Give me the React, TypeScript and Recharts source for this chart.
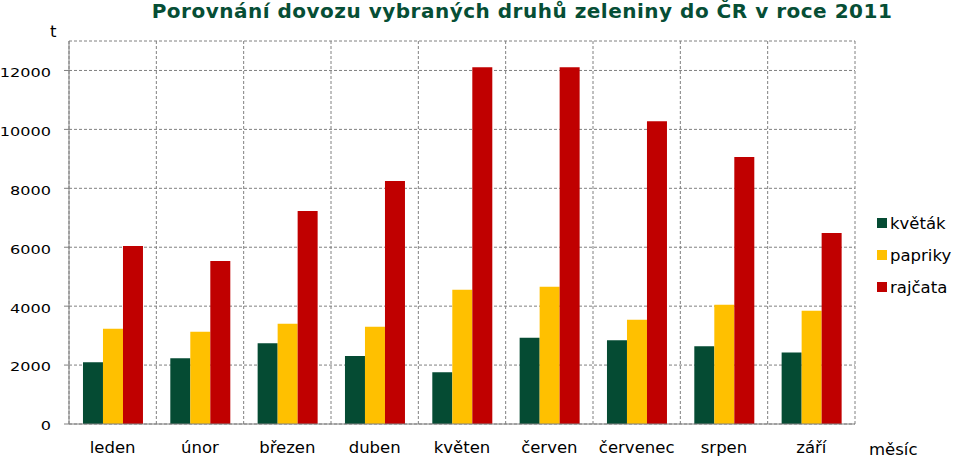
import React from "react";
import { BarChart, Bar, XAxis, YAxis, CartesianGrid } from "recharts";

const months = ["leden", "únor", "březen", "duben", "květen", "červen", "červenec", "srpen", "září"];
const kvetak = [2100, 2230, 2740, 2310, 1760, 2930, 2840, 2640, 2430];
const papriky = [3230, 3130, 3400, 3300, 4555, 4655, 3535, 4045, 3840];
const rajcata = [6045, 5535, 7230, 8250, 12110, 12110, 10280, 9060, 6485];
const yTicks = [0, 2000, 4000, 6000, 8000, 10000, 12000];
const gridBoundaries = [0, 1, 2, 3, 4, 5, 6, 7, 8, 9];
const seriesKeys = ["kvetak", "papriky", "rajcata"];
const seriesNames = ["květák", "papriky", "rajčata"];
const seriesColors = ["#054B33", "#FFC000", "#C00000"];

const data = months.map((m, i) => ({
  month: m,
  idx: i + 0.5,
  kvetak: kvetak[i],
  papriky: papriky[i],
  rajcata: rajcata[i],
}));

const FONT = "'DejaVu Sans', Verdana, sans-serif";

const YTick = (props: any) => {
  const { x, y, payload } = props;
  return (
    <text
      transform={`translate(${x - 11}, ${y + 6.4}) scale(1.4, 1)`}
      textAnchor="end"
      fontFamily={FONT}
      fontSize={11.5}
      fill="#000"
    >
      {payload.value}
    </text>
  );
};

export default function App() {
  return (
    <div style={{ position: "absolute", left: 0, top: 0, width: 956, height: 456, background: "#fff", overflow: "hidden" }}>
      <div
        style={{
          position: "absolute",
          left: 0,
          width: 1044,
          top: -1,
          textAlign: "center",
          fontFamily: FONT,
          fontWeight: "bold",
          fontSize: 20,
          letterSpacing: 0.5,
          lineHeight: "24px",
          color: "#064E35",
          whiteSpace: "nowrap",
        }}
      >
        Porovnání dovozu vybraných druhů zeleniny do ČR v roce 2011
      </div>
      <BarChart
        width={956}
        height={456}
        data={data}
        margin={{ top: 41, right: 101, bottom: 0, left: 0 }}
        barCategoryGap="16%"
        barGap={0}
        style={{ position: "absolute", left: 0, top: 0 }}
      >
        <XAxis
          xAxisId="grid"
          type="number"
          dataKey="idx"
          domain={[0, 9]}
          ticks={gridBoundaries}
          hide
        />
        <CartesianGrid xAxisId="grid" stroke="#808080" strokeDasharray="3 2" />
        <XAxis
          xAxisId="cat"
          dataKey="month"
          height={32}
          tickLine={false}
          axisLine={{ stroke: "#808080" }}
          tickMargin={11}
          tick={{ fill: "#000", fontSize: 16.5, fontFamily: FONT }}
          interval={0}
        />
        <YAxis
          width={69}
          domain={[0, 13000]}
          ticks={yTicks}
          allowDataOverflow
          axisLine={{ stroke: "#808080" }}
          tickLine={{ stroke: "#808080" }}
          tickSize={5}
          tick={<YTick />}
        />
        {seriesKeys.map((k, i) => (
          <Bar key={k} xAxisId="cat" dataKey={k} name={seriesNames[i]} fill={seriesColors[i]} isAnimationActive={false} />
        ))}
      </BarChart>
      <div style={{ position: "absolute", left: 877, top: 207, fontFamily: FONT, fontSize: 16.5, color: "#000" }}>
        {seriesNames.map((n, i) => (
          <div key={n} style={{ display: "flex", alignItems: "center", height: 32 }}>
            <span style={{ display: "inline-block", width: 10, height: 10, background: seriesColors[i], marginRight: 3 }} />
            <span>{n}</span>
          </div>
        ))}
      </div>
      <div style={{ position: "absolute", left: 50, top: 22, fontFamily: FONT, fontSize: 16.5, color: "#000", lineHeight: "20px" }}>t</div>
      <div style={{ position: "absolute", left: 869, top: 440, fontFamily: FONT, fontSize: 16.5, color: "#000", lineHeight: "20px" }}>měsíc</div>
    </div>
  );
}
